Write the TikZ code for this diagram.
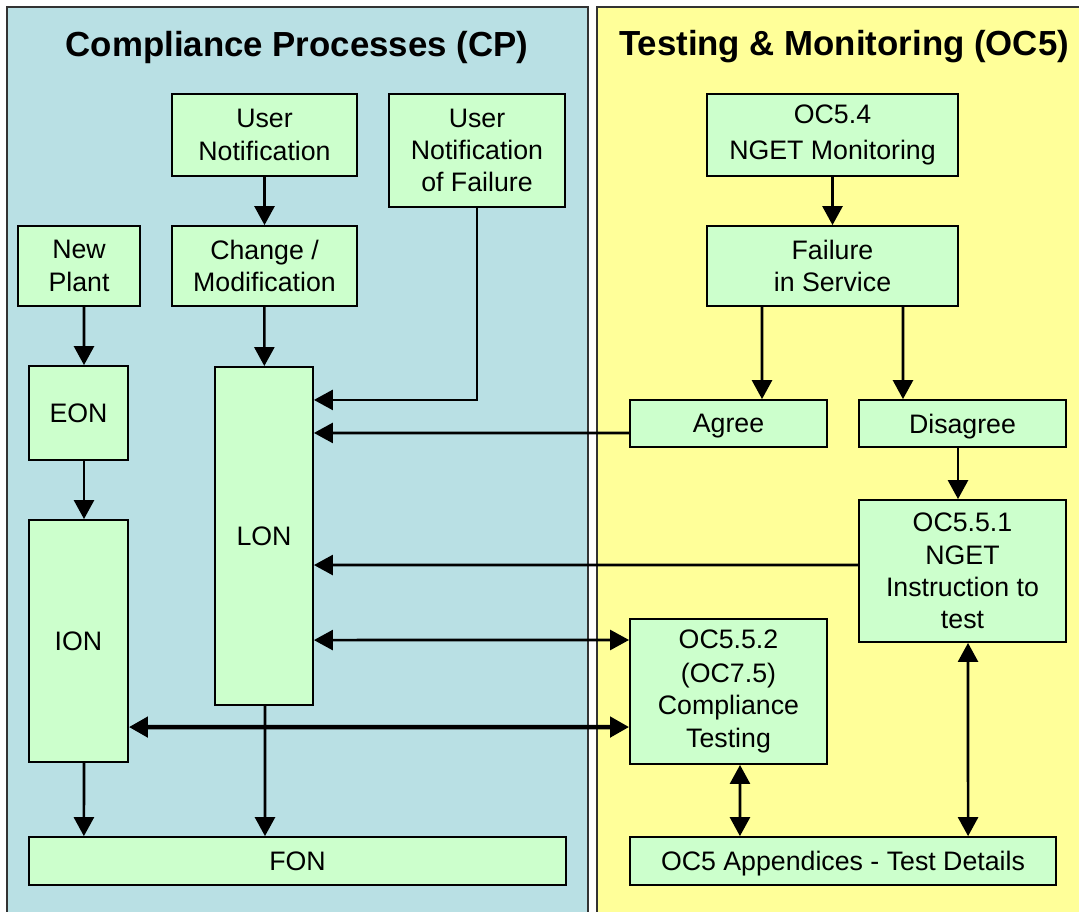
\documentclass[tikz,border=0pt]{standalone}
\usepackage{fontspec}
\setmainfont{Liberation Sans}
\usetikzlibrary{arrows.meta}

\definecolor{cpblue}{RGB}{185,224,228}
\definecolor{ocyellow}{RGB}{255,255,153}
\definecolor{boxgreen}{RGB}{204,255,204}

\begin{document}
\begin{tikzpicture}[x=0.01cm, y=-0.01cm, >={Triangle[length=1.9mm,width=2mm]},
                line width=0.75pt,
                panel/.style={draw=black!80, line width=0.5pt},
                title node/.style={font=\fontsize{9.9}{12}\selectfont\bfseries},
                main node/.style={rectangle,draw,fill=boxgreen,line width=0.5pt,align=center,
                                  inner sep=0pt,font=\fontsize{7.6}{9.2}\selectfont},
                flat text/.style={text depth=0pt}]

            \useasboundingbox (0,0) rectangle (1079,911);

            % Panels
            \fill[white] (0,0) rectangle (1079,911);
            \filldraw[panel, fill=cpblue] (7,7) rectangle (588,930);
            \filldraw[panel, fill=ocyellow] (597,7) rectangle (1095,930);
            \node[title node] (cptitle) at (297,47) {Compliance Processes (CP)};
            \node[title node] (octitle) at (844,47) {Testing \& Monitoring (OC5)};

            % Nodes
            \node[main node, minimum width=1.85cm, minimum height=0.82cm] (unote) at (264.5,135) {User\\Notification};
            \node[main node, minimum width=1.76cm, minimum height=1.13cm] (unfail) at (477,150.5) {User\\Notification\\of Failure};
            \node[main node, minimum width=1.22cm, minimum height=0.80cm] (plant) at (79,266) {New\\Plant};
            \node[main node, minimum width=1.85cm, minimum height=0.80cm] (change) at (264.5,266) {Change /\\Modification};
            \node[main node, minimum width=0.99cm, minimum height=0.94cm] (eon) at (78.5,413) {EON};
            \node[main node, minimum width=0.98cm, minimum height=3.38cm] (lon) at (264,536) {LON};
            \node[main node, minimum width=0.99cm, minimum height=2.42cm] (ion) at (78.5,641) {ION};
            \node[main node, minimum width=5.37cm, minimum height=0.48cm] (fon) at (297.5,861) {FON};

            \node[main node, minimum width=2.51cm, minimum height=0.82cm] (mon) at (832.5,135) {OC5.4\\[1pt]NGET Monitoring};
            \node[main node, minimum width=2.51cm, minimum height=0.80cm] (fail) at (832.5,266) {Failure\\in Service};
            \node[main node, flat text, minimum width=1.97cm, minimum height=0.47cm] (agree) at (728.5,423.5) {Agree};
            \node[main node, flat text, minimum width=2.07cm, minimum height=0.47cm] (disagree) at (962.5,423.5) {Disagree};
            \node[main node, minimum width=2.07cm, minimum height=1.42cm] (instr) at (962.5,571) {OC5.5.1\\NGET\\Instruction to\\test};
            \node[main node, minimum width=1.97cm, minimum height=1.45cm] (ctest) at (728.5,691.5) {OC5.5.2\\[0.4pt](OC7.5)\\Compliance\\Testing};
            \node[main node, flat text, minimum width=4.26cm, minimum height=0.48cm] (appx) at (843,861) {OC5 Appendices - Test Details};

            % Edges
            \path[->]
            (unote) edge (change)
            (change) edge (lon)
            ([xshift=0.05cm]plant.south) edge ([xshift=0.055cm]eon.north)
            ([xshift=0.055cm]eon.south) edge ([xshift=0.055cm]ion.north)
            ([xshift=0.055cm]ion.south) edge ([xshift=-2.135cm]fon.north)
            ([xshift=0.01cm]lon.south) edge ([xshift=-0.325cm]fon.north)
            (mon) edge (fail)
            ([xshift=-0.705cm]fail.south) edge ([xshift=0.335cm]agree.north)
            ([xshift=0.705cm]fail.south) edge ([xshift=-0.595cm]disagree.north)
            ([xshift=-0.045cm]disagree.south) edge ([xshift=-0.045cm]instr.north)
            ([yshift=-0.095cm]agree.west) edge ([yshift=1.03cm]lon.east)
            ([yshift=0.06cm]instr.west) edge ([yshift=-0.29cm]lon.east);

            \draw[->] (unfail.south) |- ([yshift=1.36cm]lon.east);

            \path[<->]
            ([yshift=-1.04cm]lon.east) edge ([yshift=0.515cm]ctest.west)
            ([xshift=0.115cm]ctest.south) edge ([xshift=-1.03cm]appx.north)
            ([xshift=0.055cm]instr.south) edge ([xshift=1.25cm]appx.north);

            \draw[<->, line width=1.3pt] ([yshift=-0.86cm]ion.east) -- ([yshift=-0.355cm]ctest.west);

        \end{tikzpicture}
\end{document}
